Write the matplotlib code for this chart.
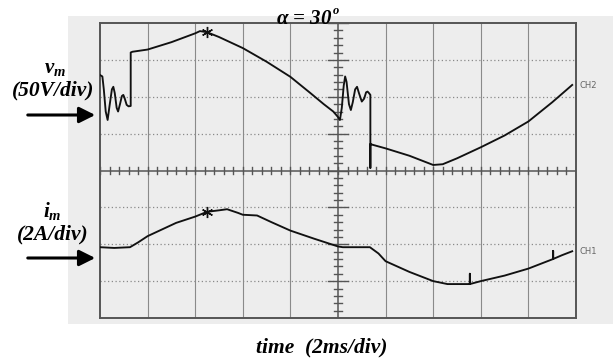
import matplotlib
matplotlib.use("Agg")
import matplotlib.pyplot as plt
from matplotlib.patches import Rectangle

plt.rcParams['mathtext.fontset'] = 'custom'
plt.rcParams['mathtext.it'] = 'Liberation Serif:italic:bold'
plt.rcParams['mathtext.rm'] = 'Liberation Serif:bold'
plt.rcParams['mathtext.bf'] = 'Liberation Serif:bold'

# ---- data (x in divisions of 2 ms, y in screen divisions) ----
vm_x = [0.0, 0.05, 0.08, 0.12, 0.16, 0.2, 0.25, 0.28, 0.31, 0.35, 0.38, 0.42,
        0.46, 0.49, 0.52, 0.56, 0.6, 0.645,
        0.645, 0.68, 1.0, 1.5, 2.0, 2.1, 2.25, 2.5, 3.0, 3.5, 4.0, 4.21, 4.42, 4.7,
        4.9, 5.0, 5.04, 5.08, 5.12, 5.15, 5.18, 5.23, 5.27, 5.31, 5.36, 5.4, 5.44,
        5.5, 5.55, 5.59, 5.62, 5.65, 5.68, 5.68, 5.68, 5.72, 6.0,
        6.5, 7.0, 7.2, 7.5, 8.0, 8.5, 9.0, 9.5, 9.92]
vm_y = [2.59, 2.55, 2.2, 1.6, 1.37, 1.75, 2.2, 2.27, 2.1, 1.7, 1.6, 1.8,
        2.02, 2.05, 1.95, 1.78, 1.74, 1.75,
        3.2, 3.22, 3.28, 3.48, 3.72, 3.78, 3.75, 3.62, 3.32, 2.95, 2.54, 2.32, 2.1, 1.8,
        1.6, 1.45, 1.37, 1.7, 2.3, 2.55, 2.4, 1.8, 1.64, 1.85, 2.2, 2.27, 2.1,
        1.87, 1.95, 2.12, 2.14, 2.1, 2.05, 0.07, 0.72, 0.7, 0.6,
        0.4, 0.15, 0.17, 0.33, 0.63, 0.95, 1.33, 1.85, 2.32]

im_x = [0.0, 0.3, 0.63, 0.8, 1.0, 1.3, 1.6, 2.0, 2.25, 2.5, 2.67, 2.9, 3.0, 3.3,
        3.6, 4.0, 4.5, 5.0, 5.1, 5.67, 5.85, 6.0, 6.5, 7.0, 7.3, 7.77, 7.77, 7.77,
        8.0, 8.5, 9.0, 9.52, 9.52, 9.52, 9.7, 9.92]
im_y = [-2.08, -2.1, -2.08, -1.95, -1.78, -1.6, -1.42, -1.25, -1.12, -1.08, -1.05,
        -1.15, -1.2, -1.22, -1.4, -1.63, -1.85, -2.06, -2.08, -2.08, -2.25, -2.46,
        -2.75, -3.0, -3.08, -3.08, -2.8, -3.08, -3.0, -2.85, -2.66, -2.4, -2.18, -2.4,
        -2.3, -2.19]

star_x = [2.25, 2.25]
star_y = [3.75, -1.12]

W, H = 613, 360
fig = plt.figure(figsize=(W / 100, H / 100), dpi=100)
fig.patch.set_facecolor('white')

# scope photo background
bg = Rectangle((68 / W, 1 - 324 / H), (W - 68) / W, (324 - 16) / H,
               transform=fig.transFigure, facecolor='#ededed', edgecolor='none', zorder=-10)
fig.patches.append(bg)

ax = fig.add_axes([100 / W, 1 - 318 / H, 476 / W, 295 / H])
ax.set_zorder(1)
ax.set_xlim(0, 10)
ax.set_ylim(-4, 4)
ax.patch.set_alpha(0)
ax.set_xticks([])
ax.set_yticks([])
for s in ax.spines.values():
    s.set_color('#555555')
    s.set_linewidth(1.4)

# grid
for gx in range(1, 10):
    if gx != 5:
        ax.plot([gx, gx], [-4, 4], color='#8a8a8a', lw=0.8, zorder=1)
for gy in [-3, -2, -1, 1, 2, 3]:
    ax.plot([0, 10], [gy, gy], color='#8a8a8a', lw=0.9, ls=(0, (1, 2)), zorder=1)
# center cross with graduations
ax.plot([5, 5], [-4, 4], color='#555555', lw=1.1, zorder=1)
ax.plot([0, 10], [0, 0], color='#555555', lw=1.1, zorder=1)
for k in range(-20, 21):
    yy = k * 0.2
    half = 0.21 if k % 5 == 0 else 0.085
    ax.plot([5 - half, 5 + half], [yy, yy], color='#555555', lw=1.0, zorder=1)
for k in range(0, 51):
    xx = k * 0.2
    half = 0.1
    ax.plot([xx, xx], [-half, half], color='#555555', lw=1.0, zorder=1)

# traces
ax.plot(vm_x, vm_y, color='#111111', lw=1.35, zorder=3, solid_joinstyle='round')
ax.plot(im_x, im_y, color='#111111', lw=1.35, zorder=3, solid_joinstyle='round')
ax.plot(star_x, star_y, ls='none', marker=(6, 2, 0), markersize=8, color='#111111',
        markeredgewidth=1.0, zorder=4)

# channel labels
fig.text(580 / W, 1 - 86 / H, 'CH2', fontsize=6, color='#666666', va='center', ha='left')
fig.text(580 / W, 1 - 252 / H, 'CH1', fontsize=6, color='#666666', va='center', ha='left')

# faint scope text at bottom (partly cut off)
for tx, t in [(163, 'CH2'), (318, 'FOH2'), (418, '2.0'), (531, 'HOLD')]:
    tt = fig.text(tx / W, 1 - 331 / H, t, fontsize=9, color='#aaaaaa', ha='center', va='center')
    tt.set_clip_path(bg)

serif = dict(family='Liberation Serif', fontweight='bold', fontstyle='italic')

fig.text(332 / W, 1 - 19 / H, r'$\alpha$ = 30', fontsize=15, ha='right', va='center', **serif)
fig.text(333 / W, 1 - 11 / H, 'o', fontsize=9, ha='left', va='center', **serif)

fig.text(55 / W, 1 - 68 / H, r'$v_m$', fontsize=15, ha='center', va='center', **serif)
fig.text(53 / W, 1 - 90 / H, '(50V/div)', fontsize=15.5, ha='center', va='center', **serif)
fig.text(52 / W, 1 - 211 / H, r'$i_m$', fontsize=15, ha='center', va='center', **serif)
fig.text(53 / W, 1 - 234 / H, '(2A/div)', fontsize=15.5, ha='center', va='center', **serif)
fig.text(322 / W, 1 - 347 / H, 'time  (2ms/div)', fontsize=15.5, ha='center', va='center', **serif)

for yy in [115, 258]:
    fig.add_artist(matplotlib.patches.FancyArrowPatch(
        (25 / W, 1 - yy / H), (98 / W, 1 - yy / H), transform=fig.transFigure,
        arrowstyle='-|>,head_length=0.8,head_width=0.4', mutation_scale=12,
        color='black', lw=2.2))

fig.savefig('out.png', dpi=100)
